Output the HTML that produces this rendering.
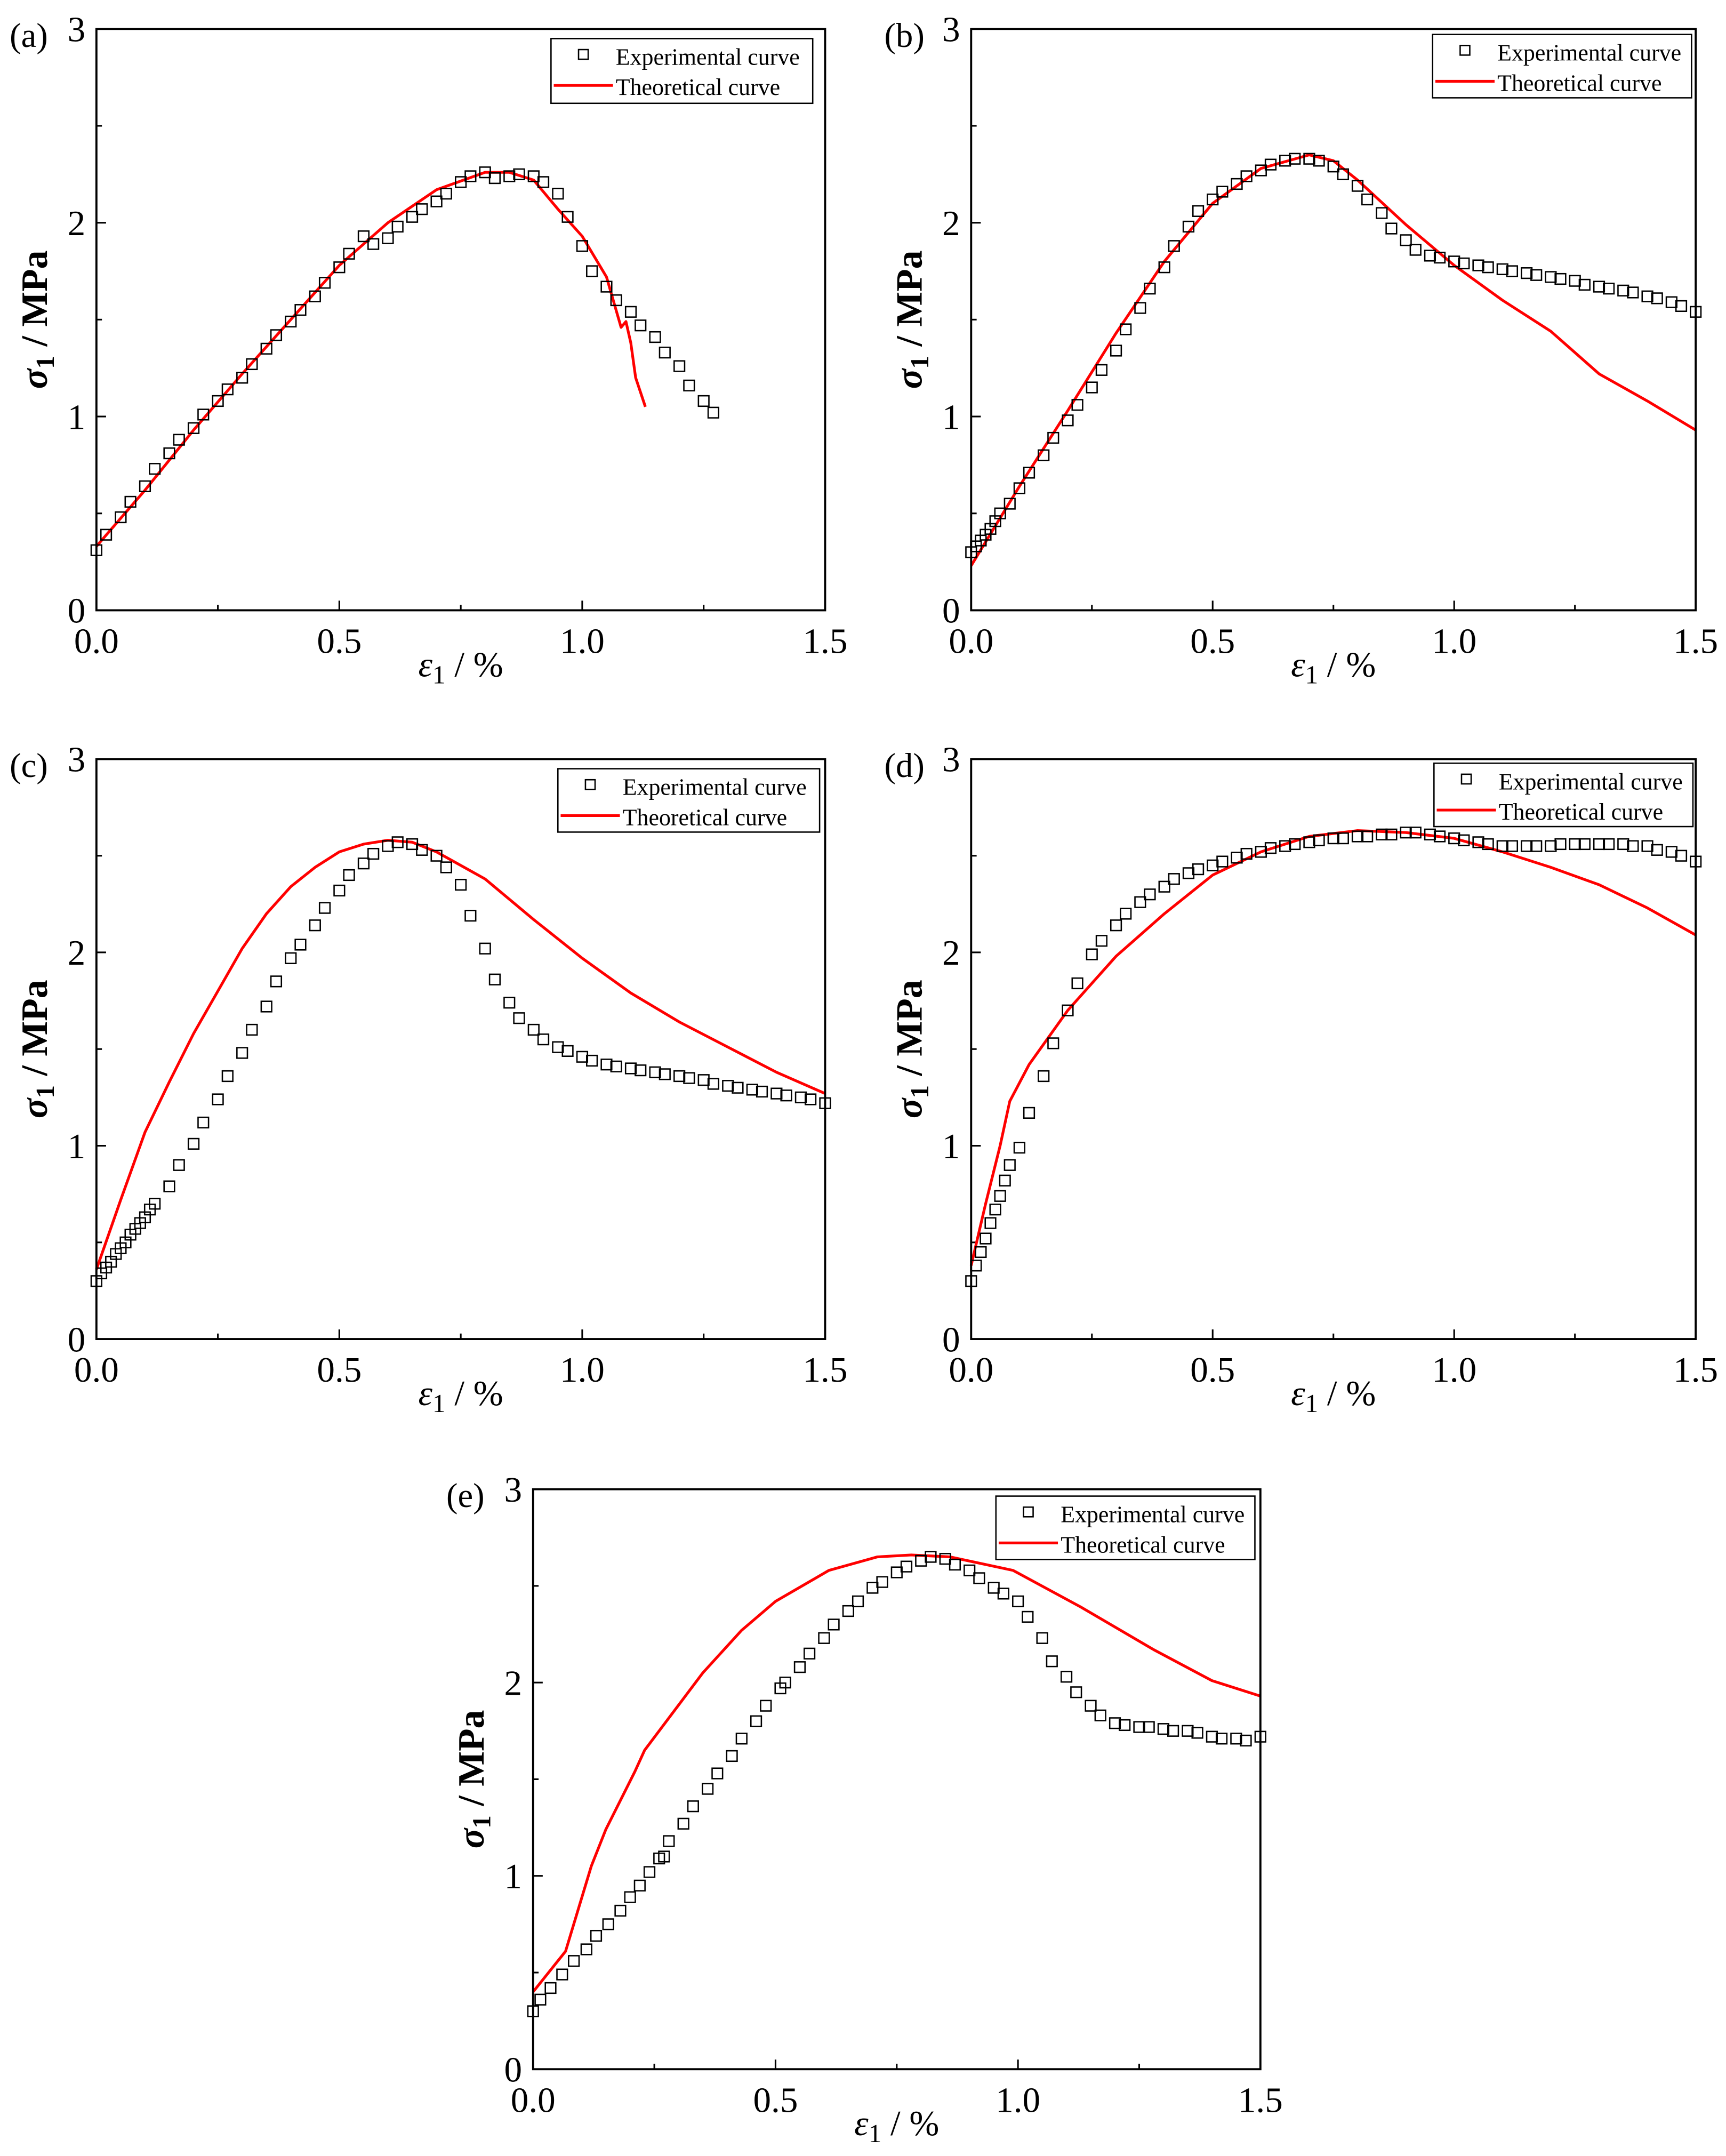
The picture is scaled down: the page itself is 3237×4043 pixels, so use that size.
<!DOCTYPE html>
<html><head><meta charset="utf-8"><style>
html,body{margin:0;padding:0;background:#fff}
svg{display:block}
svg text{font-family:"Liberation Serif","Times New Roman",serif;fill:#000}
</style></head><body>
<svg id="fig" xmlns="http://www.w3.org/2000/svg" width="3237" height="4043" viewBox="0 0 1253 1565" preserveAspectRatio="none" font-family="Liberation Serif, serif"></svg>
<script>
const xTicks=[0,0.5,1.0,1.5];
const xTickLabels=["0.0","0.5","1.0","1.5"];
const yTicks=[0,1,2,3];
const yTickLabels=["0","1","2","3"];
const panelLabels=["(a)","(b)","(c)","(d)","(e)"];
const expA_x=[0,0.02,0.05,0.07,0.1,0.12,0.15,0.17,0.2,0.22,0.25,0.27,0.3,0.32,0.35,0.37,0.4,0.42,0.45,0.47,0.5,0.52,0.55,0.57,0.6,0.62,0.65,0.67,0.7,0.72,0.75,0.77,0.8,0.82,0.85,0.87,0.9,0.92,0.95,0.97,1.0,1.02,1.05,1.07,1.1,1.12,1.15,1.17,1.2,1.22,1.25,1.27];
const expA_y=[0.31,0.39,0.48,0.56,0.64,0.73,0.81,0.88,0.94,1.01,1.08,1.14,1.2,1.27,1.35,1.42,1.49,1.55,1.62,1.69,1.77,1.84,1.93,1.89,1.92,1.98,2.03,2.07,2.11,2.15,2.21,2.24,2.26,2.23,2.24,2.25,2.24,2.21,2.15,2.03,1.88,1.75,1.67,1.6,1.54,1.47,1.41,1.33,1.26,1.16,1.08,1.02];
const thA_x=[0,0.1,0.2,0.3,0.4,0.5,0.6,0.7,0.8,0.85,0.9,0.95,1.0,1.05,1.08,1.09,1.1,1.11,1.13];
const thA_y=[0.33,0.62,0.93,1.22,1.5,1.78,2.0,2.17,2.26,2.26,2.22,2.07,1.93,1.72,1.46,1.49,1.38,1.2,1.05];
const expB_x=[0,0.01,0.02,0.03,0.04,0.05,0.06,0.08,0.1,0.12,0.15,0.17,0.2,0.22,0.25,0.27,0.3,0.32,0.35,0.37,0.4,0.42,0.45,0.47,0.5,0.52,0.55,0.57,0.6,0.62,0.65,0.67,0.7,0.72,0.75,0.77,0.8,0.82,0.85,0.87,0.9,0.92,0.95,0.97,1.0,1.02,1.05,1.07,1.1,1.12,1.15,1.17,1.2,1.22,1.25,1.27,1.3,1.32,1.35,1.37,1.4,1.42,1.45,1.47,1.5];
const expB_y=[0.3,0.33,0.36,0.39,0.42,0.46,0.5,0.55,0.63,0.71,0.8,0.89,0.98,1.06,1.15,1.24,1.34,1.45,1.56,1.66,1.77,1.88,1.98,2.06,2.12,2.16,2.2,2.24,2.27,2.3,2.32,2.33,2.33,2.32,2.29,2.25,2.19,2.12,2.05,1.97,1.91,1.86,1.83,1.82,1.8,1.79,1.78,1.77,1.76,1.75,1.74,1.73,1.72,1.71,1.7,1.68,1.67,1.66,1.65,1.64,1.62,1.61,1.59,1.57,1.54];
const thB_x=[0,0.1,0.2,0.3,0.4,0.5,0.6,0.7,0.75,0.8,0.9,1.0,1.1,1.2,1.3,1.4,1.5];
const thB_y=[0.23,0.64,1.03,1.43,1.8,2.1,2.28,2.35,2.32,2.22,1.99,1.78,1.6,1.44,1.22,1.08,0.93];
const expC_x=[0,0.01,0.02,0.03,0.04,0.05,0.06,0.07,0.08,0.09,0.1,0.11,0.12,0.15,0.17,0.2,0.22,0.25,0.27,0.3,0.32,0.35,0.37,0.4,0.42,0.45,0.47,0.5,0.52,0.55,0.57,0.6,0.62,0.65,0.67,0.7,0.72,0.75,0.77,0.8,0.82,0.85,0.87,0.9,0.92,0.95,0.97,1.0,1.02,1.05,1.07,1.1,1.12,1.15,1.17,1.2,1.22,1.25,1.27,1.3,1.32,1.35,1.37,1.4,1.42,1.45,1.47,1.5];
const expC_y=[0.3,0.34,0.37,0.4,0.44,0.47,0.5,0.54,0.57,0.6,0.63,0.67,0.7,0.79,0.9,1.01,1.12,1.24,1.36,1.48,1.6,1.72,1.85,1.97,2.04,2.14,2.23,2.32,2.4,2.46,2.51,2.55,2.57,2.56,2.53,2.5,2.44,2.35,2.19,2.02,1.86,1.74,1.66,1.6,1.55,1.51,1.49,1.46,1.44,1.42,1.41,1.4,1.39,1.38,1.37,1.36,1.35,1.34,1.32,1.31,1.3,1.29,1.28,1.27,1.26,1.25,1.24,1.22];
const thC_x=[0,0.05,0.1,0.15,0.2,0.25,0.3,0.35,0.4,0.45,0.5,0.55,0.6,0.65,0.7,0.8,0.9,1.0,1.1,1.2,1.3,1.4,1.5];
const thC_y=[0.36,0.72,1.07,1.33,1.58,1.8,2.02,2.2,2.34,2.44,2.52,2.56,2.58,2.57,2.52,2.38,2.17,1.97,1.79,1.64,1.51,1.38,1.27];
const expD_x=[0,0.01,0.02,0.03,0.04,0.05,0.06,0.07,0.08,0.1,0.12,0.15,0.17,0.2,0.22,0.25,0.27,0.3,0.32,0.35,0.37,0.4,0.42,0.45,0.47,0.5,0.52,0.55,0.57,0.6,0.62,0.65,0.67,0.7,0.72,0.75,0.77,0.8,0.82,0.85,0.87,0.9,0.92,0.95,0.97,1.0,1.02,1.05,1.07,1.1,1.12,1.15,1.17,1.2,1.22,1.25,1.27,1.3,1.32,1.35,1.37,1.4,1.42,1.45,1.47,1.5];
const expD_y=[0.3,0.38,0.45,0.52,0.6,0.67,0.74,0.82,0.9,0.99,1.17,1.36,1.53,1.7,1.84,1.99,2.06,2.14,2.2,2.26,2.3,2.34,2.38,2.41,2.43,2.45,2.47,2.49,2.51,2.52,2.54,2.55,2.56,2.57,2.58,2.59,2.59,2.6,2.6,2.61,2.61,2.62,2.62,2.61,2.6,2.59,2.58,2.57,2.56,2.55,2.55,2.55,2.55,2.55,2.56,2.56,2.56,2.56,2.56,2.56,2.55,2.55,2.53,2.52,2.5,2.47];
const thD_x=[0,0.03,0.06,0.08,0.12,0.2,0.3,0.4,0.5,0.6,0.7,0.8,0.9,1.0,1.1,1.2,1.3,1.4,1.5];
const thD_y=[0.38,0.7,1.0,1.23,1.42,1.7,1.98,2.2,2.4,2.52,2.6,2.63,2.62,2.59,2.52,2.44,2.35,2.23,2.09];
const expE_x=[0,0.015,0.036,0.06,0.084,0.11,0.13,0.155,0.18,0.2,0.22,0.24,0.26,0.27,0.28,0.31,0.33,0.36,0.38,0.41,0.43,0.46,0.48,0.51,0.52,0.55,0.57,0.6,0.62,0.65,0.67,0.7,0.72,0.75,0.77,0.8,0.82,0.85,0.87,0.9,0.92,0.95,0.97,1.0,1.02,1.05,1.07,1.1,1.12,1.15,1.17,1.2,1.22,1.25,1.27,1.3,1.32,1.35,1.37,1.4,1.42,1.45,1.47,1.5];
const expE_y=[0.3,0.36,0.42,0.49,0.56,0.62,0.69,0.75,0.82,0.89,0.95,1.02,1.09,1.1,1.18,1.27,1.36,1.45,1.53,1.62,1.71,1.8,1.88,1.97,2.0,2.08,2.15,2.23,2.3,2.37,2.42,2.49,2.52,2.57,2.6,2.63,2.65,2.64,2.61,2.58,2.54,2.49,2.46,2.42,2.34,2.23,2.11,2.03,1.95,1.88,1.83,1.79,1.78,1.77,1.77,1.76,1.75,1.75,1.74,1.72,1.71,1.71,1.7,1.72];
const thE_x=[0,0.067,0.12,0.15,0.21,0.23,0.29,0.35,0.43,0.5,0.61,0.71,0.78,0.86,0.99,1.13,1.28,1.4,1.5];
const thE_y=[0.4,0.61,1.05,1.24,1.54,1.65,1.85,2.05,2.27,2.42,2.58,2.65,2.66,2.65,2.58,2.39,2.17,2.01,1.93];

const NS="http://www.w3.org/2000/svg";
const svg=document.getElementById('fig');
const FF='"Liberation Serif", "Times New Roman", serif';
function mk(tag,attrs,parent,txt){const e=document.createElementNS(NS,tag);for(const k in attrs)e.setAttribute(k,attrs[k]);if(tag==='text')e.setAttribute('font-family',FF);if(txt!==undefined)e.textContent=txt;(parent||svg).appendChild(e);return e;}

const panels=[
 {L:70,R:599,T:21,B:443,lg:[400,28,190,47],ex:expA_x,ey:expA_y,tx:thA_x,ty:thA_y,id:'a'},
 {L:705,R:1231,T:21,B:443,lg:[1040,25,188,46],ex:expB_x,ey:expB_y,tx:thB_x,ty:thB_y,id:'b'},
 {L:70,R:599,T:551,B:972,lg:[405,558,190,46],ex:expC_x,ey:expC_y,tx:thC_x,ty:thC_y,id:'c'},
 {L:705,R:1231,T:551,B:972,lg:[1041,554,188,46],ex:expD_x,ey:expD_y,tx:thD_x,ty:thD_y,id:'d'},
 {L:387,R:915,T:1081,B:1502,lg:[723,1086,188,46],ex:expE_x,ey:expE_y,tx:thE_x,ty:thE_y,id:'e'}
];
panels.forEach((p,i)=>{
 const g=mk('g',{});
 
 
 const X=v=>p.L+v/1.5*(p.R-p.L);
 const Y=v=>p.B-v/3*(p.B-p.T);
 for(let k=0;k<=6;k++){const v=k*0.25;const len=(k%2==0)?7:4;
  const t=mk('line',{x1:X(v),x2:X(v),y1:p.B,y2:p.B-len,stroke:'#000','stroke-width':1.2},g);
  }
 for(let k=0;k<=6;k++){const v=k*0.5;const len=(k%2==0)?7:4;
  const t=mk('line',{x1:p.L,x2:p.L+len,y1:Y(v),y2:Y(v),stroke:'#000','stroke-width':1.2},g);
  }
 xTicks.forEach((v,j)=>{const t=mk('text',{x:X(v),y:p.B+31,'font-size':26,'text-anchor':'middle'},g,xTickLabels[j]);
  });
 yTicks.forEach((v,j)=>{const t=mk('text',{x:p.L-8,y:Y(v)+9,'font-size':26,'text-anchor':'end'},g,yTickLabels[j]);
  });
 const pl=mk('text',{x:p.L-63,y:p.T+13,'font-size':25},g,panelLabels[i]);
 
 const cy=(p.T+p.B)/2;
 const yt=mk('text',{x:0,y:0,'font-size':27,'font-weight':'600','text-anchor':'middle',transform:`translate(${p.L-36},${cy}) rotate(-90)`},g);
 
 mk('tspan',{'font-style':'italic'},yt,'σ');mk('tspan',{'font-size':19,dy:5},yt,'1');mk('tspan',{dy:-5},yt,' / MPa');
 const xt=mk('text',{x:(p.L+p.R)/2,y:p.B+48,'font-size':26,'text-anchor':'middle'},g);
 
 mk('tspan',{'font-style':'italic'},xt,'ε');mk('tspan',{'font-size':19,dy:5},xt,'1');mk('tspan',{dy:-5},xt,' / %');
 const d=p.tx.map((v,j)=>(j?'L':'M')+X(v).toFixed(2)+' '+Y(p.ty[j]).toFixed(2)).join(' ');
 const th=mk('path',{d:d,fill:'none',stroke:'#f00','stroke-width':2,'stroke-linejoin':'round'},g);
 
 p.ex.forEach((v,j)=>{const m=mk('rect',{x:X(v)-3.8,y:Y(p.ey[j])-3.8,width:7.6,height:7.6,fill:'none',stroke:'#000','stroke-width':1},g);
  });
 const fr=mk('rect',{x:p.L,y:p.T,width:p.R-p.L,height:p.B-p.T,fill:'none',stroke:'#000','stroke-width':1.5},g);
 
 const [lx,ly,lw,lh]=p.lg;
 const lg=mk('g',{},g);
 
 mk('rect',{x:lx,y:ly,width:lw,height:lh,fill:'#fff',stroke:'#000','stroke-width':1},lg);
 const e1=mk('g',{},lg);
 mk('rect',{x:lx+20,y:ly+8,width:7,height:7,fill:'none',stroke:'#000','stroke-width':1},e1);
 mk('text',{x:lx+47,y:ly+19,'font-size':17},e1,'Experimental curve');
 const e2=mk('g',{},lg);
 mk('line',{x1:lx+2,x2:lx+45,y1:ly+34,y2:ly+34,stroke:'#f00','stroke-width':2},e2);
 mk('text',{x:lx+47,y:ly+41,'font-size':17},e2,'Theoretical curve');
});
</script>
</body></html>
